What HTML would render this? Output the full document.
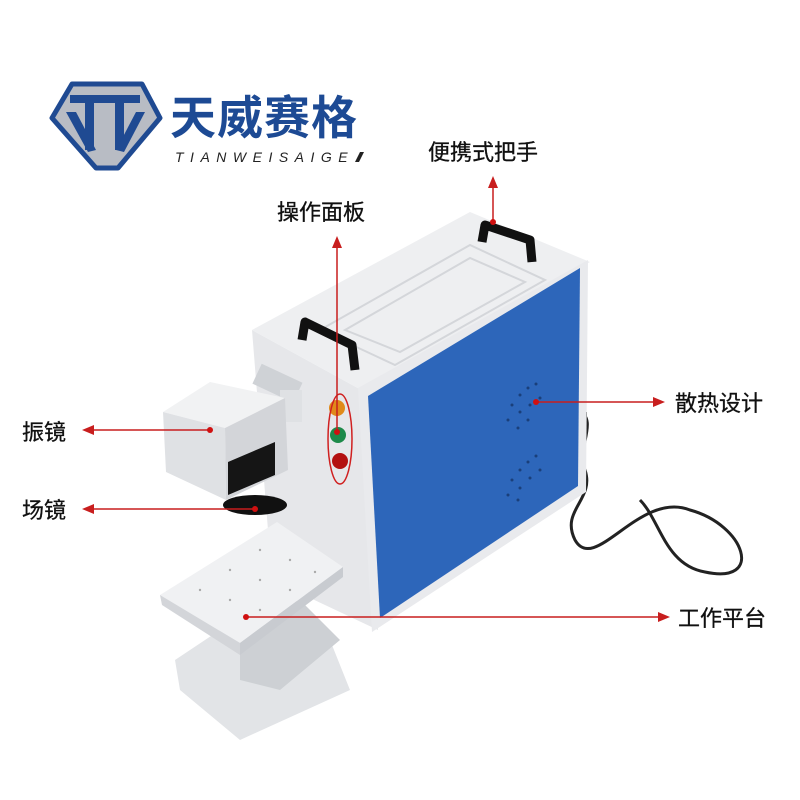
<!DOCTYPE html>
<html><head><meta charset="utf-8"><style>
body{margin:0;background:#fff}
svg{display:block}
text{font-family:"Liberation Sans","Noto Sans CJK SC",sans-serif}
</style></head><body>
<svg width="800" height="800" viewBox="0 0 800 800" xmlns="http://www.w3.org/2000/svg">
<rect width="800" height="800" fill="#fff"/>
<!-- logo emblem -->
<g stroke="#1f4a92" stroke-width="5" fill="#b8bcc4" stroke-linejoin="round">
<polygon points="52,118 72,84 142,84 160,118 118,168 96,168"/>
</g>
<g fill="#1f4a92">
<rect x="70" y="95" width="70" height="8"/>
<rect x="85" y="95" width="9" height="55"/>
<rect x="115" y="95" width="9" height="55"/>
<polygon points="66,112 76,112 96,150 88,152"/>
<polygon points="145,112 136,112 116,150 124,152"/>
</g>
<text x="170" y="134" font-size="46" font-weight="bold" fill="#1d4a94" letter-spacing="1">天威赛格</text>
<text x="175" y="162" font-size="14" font-style="italic" fill="#222" letter-spacing="6.5">TIANWEISAIGE</text>
<polygon points="355,162 360,152 364,152 359,162" fill="#222"/>

<!-- cable -->
<path d="M578,410 C600,420 575,450 585,470 C595,500 560,510 575,540 C595,575 640,490 690,510 C745,525 765,585 705,572 C665,565 660,520 640,500" fill="none" stroke="#222" stroke-width="3"/>
<rect x="575" y="412" width="12" height="18" fill="#222"/>

<!-- left white face -->
<polygon points="252,330 365,392 378,630 272,580" fill="#e6e7ea"/>
<!-- top face -->
<polygon points="252,330 470,212 590,262 365,392" fill="#eeeff1"/>
<g fill="none" stroke="#d4d6da" stroke-width="2">
<polygon points="320,330 470,245 545,280 395,365"/>
<polygon points="345,330 470,258 525,282 400,352"/>
</g>
<!-- front frame -->
<polygon points="358,388 588,260 586,492 372,632" fill="#e9eaed"/>
<polygon points="368,396 580,268 578,486 380,618" fill="#2d66ba"/>
<!-- vents -->
<g fill="#1a3f7a">
<circle cx="520" cy="395" r="1.5"/><circle cx="528" cy="388" r="1.5"/><circle cx="536" cy="384" r="1.5"/><circle cx="512" cy="405" r="1.5"/><circle cx="520" cy="412" r="1.5"/><circle cx="530" cy="405" r="1.5"/><circle cx="540" cy="398" r="1.5"/><circle cx="508" cy="420" r="1.5"/><circle cx="518" cy="428" r="1.5"/><circle cx="528" cy="420" r="1.5"/>
<circle cx="520" cy="470" r="1.5"/><circle cx="528" cy="462" r="1.5"/><circle cx="536" cy="456" r="1.5"/><circle cx="512" cy="480" r="1.5"/><circle cx="520" cy="488" r="1.5"/><circle cx="530" cy="478" r="1.5"/><circle cx="540" cy="470" r="1.5"/><circle cx="508" cy="495" r="1.5"/><circle cx="518" cy="500" r="1.5"/>
</g>
<!-- handles -->
<path d="M302,340 L305,322 L352,345 L355,370" fill="none" stroke="#111" stroke-width="9" stroke-linejoin="round"/>
<path d="M482,242 L485,225 L530,240 L532,262" fill="none" stroke="#111" stroke-width="9" stroke-linejoin="round"/>
<!-- connector tube -->
<rect x="255" y="372" width="45" height="22" fill="#cfd2d6" transform="rotate(25 277 383)"/>
<rect x="280" y="390" width="22" height="32" fill="#dfe1e4"/>
<!-- galvo -->
<polygon points="163,412 210,382 285,398 225,428" fill="#f1f2f3"/>
<polygon points="163,412 225,428 226,500 166,472" fill="#dfe1e4"/>
<polygon points="225,428 285,398 288,470 226,500" fill="#d3d5d9"/>
<polygon points="228,462 275,442 275,475 228,495" fill="#151515"/>
<ellipse cx="255" cy="505" rx="32" ry="10" fill="#111"/>
<!-- buttons -->
<circle cx="337" cy="408" r="8" fill="#e08a1a"/><circle cx="338" cy="435" r="8" fill="#1d8a4a"/><circle cx="340" cy="461" r="8" fill="#b31010"/>
<ellipse cx="340" cy="439" rx="12" ry="45" fill="none" stroke="#d02020" stroke-width="1.5"/>
<!-- platform -->
<polygon points="175,660 250,610 330,640 350,690 240,740 180,690" fill="#e2e4e7"/>
<polygon points="240,620 300,600 340,640 280,690 240,680" fill="#cdd0d4"/>
<polygon points="160,595 277,522 343,567 240,643" fill="#f0f1f3"/>
<polygon points="160,595 240,643 240,655 162,605" fill="#d3d5d9"/>
<polygon points="240,643 343,567 343,577 240,655" fill="#c8cbd0"/>
<g fill="#aaa"><circle cx="200" cy="590" r="1.2"/><circle cx="230" cy="570" r="1.2"/><circle cx="260" cy="550" r="1.2"/><circle cx="230" cy="600" r="1.2"/><circle cx="260" cy="580" r="1.2"/><circle cx="290" cy="560" r="1.2"/><circle cx="260" cy="610" r="1.2"/><circle cx="290" cy="590" r="1.2"/><circle cx="315" cy="572" r="1.2"/></g>

<!-- red callouts -->
<g stroke="#c81e1e" stroke-width="1.5" fill="#c81e1e">
<line x1="493" y1="185" x2="493" y2="222"/><polygon points="493,176 488,188 498,188" stroke="none"/>
<line x1="337" y1="245" x2="337" y2="432"/><polygon points="337,236 332,248 342,248" stroke="none"/>
<line x1="92" y1="430" x2="210" y2="430"/><polygon points="82,430 94,425 94,435" stroke="none"/>
<line x1="92" y1="509" x2="255" y2="509"/><polygon points="82,509 94,504 94,514" stroke="none"/>
<line x1="536" y1="402" x2="655" y2="402"/><polygon points="665,402 653,397 653,407" stroke="none"/>
<line x1="246" y1="617" x2="660" y2="617"/><polygon points="670,617 658,612 658,622" stroke="none"/>
</g>
<g fill="#d01010"><circle cx="493" cy="222" r="3"/><circle cx="337" cy="432" r="3"/><circle cx="210" cy="430" r="3"/><circle cx="255" cy="509" r="3"/><circle cx="536" cy="402" r="3"/><circle cx="246" cy="617" r="3"/></g>

<!-- labels -->
<g font-size="22" fill="#111" stroke="#111" stroke-width="0.3">
<text x="428" y="160">便携式把手</text>
<text x="277" y="220">操作面板</text>
<text x="22" y="440">振镜</text>
<text x="22" y="518">场镜</text>
<text x="675" y="411">散热设计</text>
<text x="678" y="626">工作平台</text>
</g>
</svg>
</body></html>
